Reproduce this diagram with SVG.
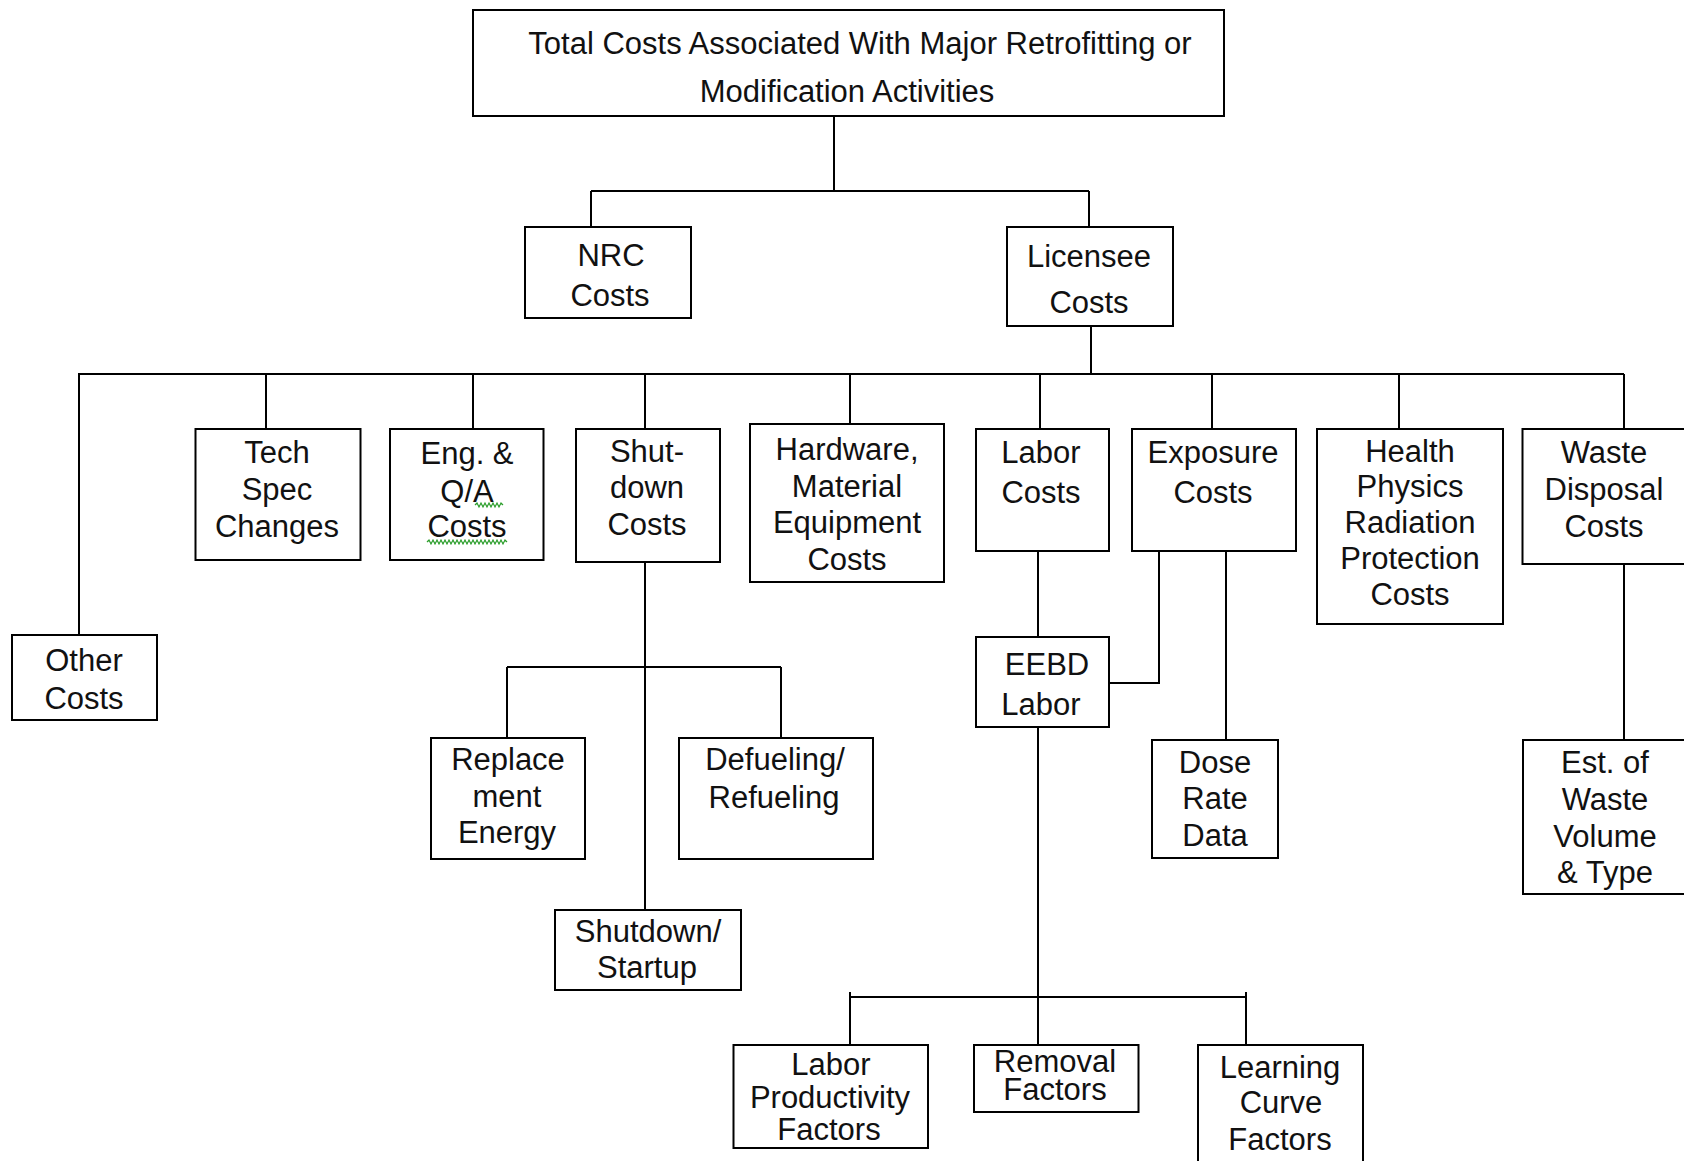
<svg xmlns="http://www.w3.org/2000/svg" width="1684" height="1161" viewBox="0 0 1684 1161">
<style>
.box{fill:#fff;stroke:#000;stroke-width:2}
.ln{fill:none;stroke:#000;stroke-width:2}
.sq{fill:none;stroke:#2a9d2a;stroke-width:1.2}
text{font-family:"Liberation Sans",Arial,sans-serif;font-size:31px;fill:#111;text-anchor:middle}
</style>
<rect width="1684" height="1161" fill="#fff"/>
<g id="connectors">
<path class="ln" d="M834,116V191M591,191H1089M591,191V227M1089,191V227"/>
<path class="ln" d="M1091,326V374M78,374H1624"/>
<path class="ln" d="M79,374V635M266,374V429M473,374V429M645,374V429M850,374V424M1040,374V429M1212,374V429M1399,374V429M1624,374V429"/>
<path class="ln" d="M645,562V910M507,667H781M507,667V738M781,667V738"/>
<path class="ln" d="M1038,551V637M1159,551V683H1109M1226,551V740M1624,564V740"/>
<path class="ln" d="M1038,727V1045M850,997H1246M850,992V1045M1246,992V1045"/>
</g>
<g id="n-total"><rect class="box" x="473" y="10" width="751" height="106"/><text x="860" y="54">Total Costs Associated With Major Retrofitting or</text><text x="847" y="102">Modification Activities</text></g>
<g id="n-nrc"><rect class="box" x="525" y="227" width="166" height="91"/><text x="611" y="266">NRC</text><text x="610" y="306">Costs</text></g>
<g id="n-licensee"><rect class="box" x="1007" y="227" width="166" height="99"/><text x="1089" y="267">Licensee</text><text x="1089" y="313">Costs</text></g>
<g id="n-other"><rect class="box" x="12" y="635" width="145" height="85"/><text x="84" y="671">Other</text><text x="84" y="709">Costs</text></g>
<g id="n-tech"><rect class="box" x="195.5" y="429" width="165" height="131"/><text x="277" y="463">Tech</text><text x="277" y="500">Spec</text><text x="277" y="537">Changes</text></g>
<g id="n-eng"><rect class="box" x="390" y="429" width="153.5" height="131"/><text x="467" y="464">Eng. &amp;</text><text x="467" y="502">Q/A</text><text x="467" y="537">Costs</text>
<path class="sq" d="M475,505l2,-2l2,4l2,-4l2,4l2,-4l2,4l2,-4l2,4l2,-4l2,4l2,-4l2,4l2,-4l2,2"/>
<path class="sq" d="M427,542l2,-2l2,4l2,-4l2,4l2,-4l2,4l2,-4l2,4l2,-4l2,4l2,-4l2,4l2,-4l2,4l2,-4l2,4l2,-4l2,4l2,-4l2,4l2,-4l2,4l2,-4l2,4l2,-4l2,4l2,-4l2,4l2,-4l2,4l2,-4l2,4l2,-4l2,4l2,-4l2,4l2,-4l2,4l2,-4l2,2"/></g>
<g id="n-shut"><rect class="box" x="576" y="429" width="144" height="133"/><text x="647" y="462">Shut-</text><text x="647" y="498">down</text><text x="647" y="535">Costs</text></g>
<g id="n-hardware"><rect class="box" x="750" y="424" width="194" height="158"/><text x="847" y="460">Hardware,</text><text x="847" y="497">Material</text><text x="847" y="533">Equipment</text><text x="847" y="570">Costs</text></g>
<g id="n-labor"><rect class="box" x="976" y="429" width="133" height="122"/><text x="1041" y="463">Labor</text><text x="1041" y="503">Costs</text></g>
<g id="n-exposure"><rect class="box" x="1132" y="429" width="164" height="122"/><text x="1213" y="463">Exposure</text><text x="1213" y="503">Costs</text></g>
<g id="n-health"><rect class="box" x="1317" y="429" width="186" height="195"/><text x="1410" y="462">Health</text><text x="1410" y="497">Physics</text><text x="1410" y="533">Radiation</text><text x="1410" y="569">Protection</text><text x="1410" y="605">Costs</text></g>
<g id="n-waste"><rect class="box" x="1522.5" y="429" width="175" height="135"/><text x="1604" y="463">Waste</text><text x="1604" y="500">Disposal</text><text x="1604" y="537">Costs</text></g>
<g id="n-eebd"><rect class="box" x="976" y="637" width="133" height="90"/><text x="1047" y="675">EEBD</text><text x="1041" y="715">Labor</text></g>
<g id="n-replacement"><rect class="box" x="431" y="738" width="154" height="121"/><text x="508" y="770">Replace</text><text x="507" y="807">ment</text><text x="507" y="843">Energy</text></g>
<g id="n-defueling"><rect class="box" x="679" y="738" width="194" height="121"/><text x="775" y="770">Defueling/</text><text x="774" y="808">Refueling</text></g>
<g id="n-startup"><rect class="box" x="555" y="910" width="186" height="80"/><text x="648" y="942">Shutdown/</text><text x="647" y="978">Startup</text></g>
<g id="n-dose"><rect class="box" x="1152" y="740" width="126" height="118"/><text x="1215" y="773">Dose</text><text x="1215" y="809">Rate</text><text x="1215" y="846">Data</text></g>
<g id="n-est"><rect class="box" x="1523" y="740" width="175" height="154"/><text x="1605" y="773">Est. of</text><text x="1605" y="810">Waste</text><text x="1605" y="847">Volume</text><text x="1605" y="883">&amp; Type</text></g>
<g id="n-laborprod"><rect class="box" x="733.5" y="1045" width="194.5" height="103"/><text x="831" y="1075">Labor</text><text x="830" y="1108">Productivity</text><text x="829" y="1140">Factors</text></g>
<g id="n-removal"><rect class="box" x="974" y="1045" width="164.5" height="67"/><text x="1055" y="1072">Removal</text><text x="1055" y="1100">Factors</text></g>
<g id="n-learning"><rect class="box" x="1198" y="1045" width="165" height="130"/><text x="1280" y="1078">Learning</text><text x="1281" y="1113">Curve</text><text x="1280" y="1150">Factors</text></g>
</svg>
